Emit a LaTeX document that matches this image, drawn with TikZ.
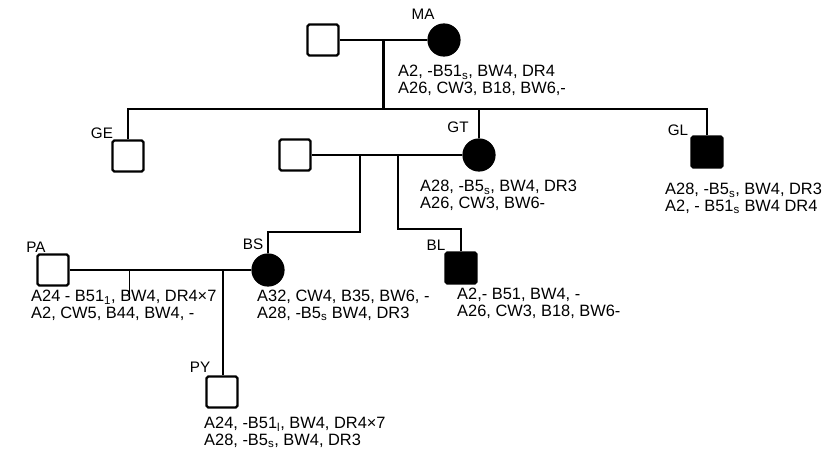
\documentclass[tikz,border=0pt]{standalone}
\usepackage{fontspec}
\setmainfont{Liberation Sans}
\usetikzlibrary{positioning,calc}
\tikzset{
  ind/.style={draw,line width=1.9pt,minimum size=0.93cm,inner sep=0pt},
  male/.style={ind,rectangle,rounded corners=1.5pt},
  fem/.style={ind,circle,fill=black},
  aff/.style={fill=black},
  ln/.style={line width=2.3pt},
  tag/.style={font=\fontsize{13}{13}\selectfont},
  hla/.style={anchor=north west,align=left,inner sep=0pt,
              font=\fontsize{14}{14}\selectfont},
}
\newcommand{\sbs}[1]{\textsubscript{#1}}

\begin{document}
\begin{tikzpicture}[x=0.03cm,y=-0.03cm]
\useasboundingbox (0,0) rectangle (837,455);
% generation I
\node[male] (maF) at (323,40) {};
\node[fem] (ma) at (444,40) {};
\node[tag] (maL) at (423,14) {MA};
\node[hla] (maT) at (398,65) {A2, -B51\sbs{s}, BW4, DR4\\A26, CW3, B18, BW6,-};
\coordinate (maM) at ($(maF.east)!0.5!(ma.west)$);
\coordinate (sibY) at (0,109);
% generation II
\node[male] (ge) at (128,156) {};
\node[tag] (geL) at (102,133) {GE};
\node[fem] (gt) at (479,155) {};
\node[tag] (gtL) at (458,127) {GT};
\node[hla] (gtT) at (420,180) {A28, -B5\sbs{s}, BW4, DR3\\A26, CW3, BW6-};
\node[male,aff] (gl) at (707,152) {};
\node[tag] (glL) at (678,130) {GL};
\node[hla] (glT) at (665,183) {A28, -B5\sbs{s}, BW4, DR3\\A2, - B51\sbs{s} BW4 DR4};
\node[male] (gtF) at (295,155) {};
\draw[ln] (maF.east) -- (ma.west);
\draw[ln] (maM) -- (maM |- sibY);
\draw[ln] (ge.north) |- (gl.north |- sibY) -- (gl.north);
\draw[ln] (gt.north) -- (gt.north |- sibY);
\draw[ln] (gtF.east) -- (gt.west);
% generation III
\node[fem] (bs) at (268,270) {};
\node[tag] (bsL) at (253,244) {BS};
\node[hla] (bsT) at (257,290) {A32, CW4, B35, BW6, -\\A28, -B5\sbs{s} BW4, DR3};
\node[male,aff] (bl) at (461,268) {};
\node[tag] (blL) at (436,245) {BL};
\node[hla] (blT) at (457,288) {A2,- B51, BW4, -\\A26, CW3, B18, BW6-};
\node[male] (pa) at (53,270) {};
\node[tag] (paL) at (36,247) {PA};
\node[hla] (paT) at (31,290) {A24 - B51\sbs{1}, BW4, DR4×7\\A2, CW5, B44, BW4, -};
\coordinate (bsD) at (360,155);
\coordinate (bsK) at (360,232);
\coordinate (blD) at (398,155);
\coordinate (blK) at (398,229);
\draw[ln] (bsD) -- (bsK) -| (bs.north);
\draw[ln] (blD) -- (blK) -| (bl.north);
\draw[ln] (pa.east) -- (bs.west);
\coordinate (tk) at (129,270);
\coordinate (tkE) at (129,300);
\draw[thin] (tk) -- (tkE);
% generation IV
\node[male] (py) at (222,392) {};
\node[tag] (pyL) at (200,367) {PY};
\node[hla] (pyT) at (204,417) {A24, -B51\sbs{l}, BW4, DR4×7\\A28, -B5\sbs{s}, BW4, DR3};
\coordinate (pyD) at (223,270);
\draw[ln] (pyD) -- (pyD |- py.north);
\end{tikzpicture}
\end{document}
